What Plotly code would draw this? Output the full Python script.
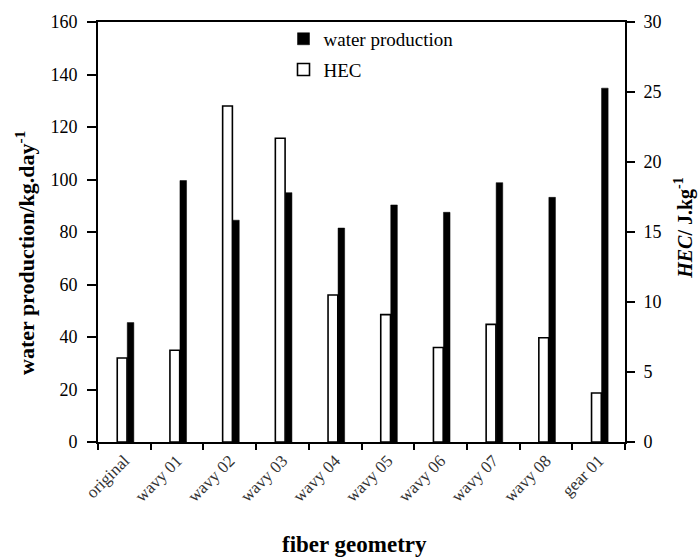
import plotly.graph_objects as go

categories = ["original", "wavy 01", "wavy 02", "wavy 03", "wavy 04",
              "wavy 05", "wavy 06", "wavy 07", "wavy 08", "gear 01"]
water_production = [45.5, 99.6, 84.5, 95.0, 81.5, 90.3, 87.5, 98.8, 93.2, 134.8]
hec = [6.0, 6.55, 24.0, 21.7, 10.5, 9.1, 6.75, 8.4, 7.45, 3.5]

FONT = "Liberation Serif"

fig = go.Figure()
fig.add_trace(go.Bar(
    x=categories, y=water_production, name="water production", yaxis="y",
    legendgroup="wp",
    width=0.125, offset=0.055,
    marker=dict(color="black", line=dict(color="black", width=0.5)),
))
fig.add_trace(go.Bar(
    x=categories, y=hec, name="HEC", yaxis="y2", legendgroup="hec",
    width=0.185, offset=-0.135,
    marker=dict(color="white", line=dict(color="black", width=1.6)),
))

fig.update_layout(
    width=700, height=560,
    margin=dict(l=98, r=75, t=19, b=118),
    paper_bgcolor="white", plot_bgcolor="white",
    font=dict(family=FONT, color="black", size=18),
    showlegend=True,
    legend=dict(x=0.352, y=1.005, xanchor="left", yanchor="top",
                traceorder="grouped", bgcolor="rgba(0,0,0,0)",
                font=dict(size=19, family=FONT), itemwidth=30,
                tracegroupgap=3),
    xaxis=dict(
        tickangle=-45, showline=True, linecolor="black", linewidth=2,
        ticks="outside", ticklen=6, tickcolor="black", tickwidth=2,
        tickson="boundaries", mirror=True,
        tickfont=dict(size=17, family=FONT, color="#333"),
    ),
    yaxis=dict(
        range=[0, 160], dtick=20, showline=True, linecolor="black", linewidth=2,
        ticks="outside", ticklen=9, tickcolor="black", tickwidth=2,
        ticklabelstandoff=6,
        showgrid=False, zeroline=False,
        tickfont=dict(size=18, family=FONT),
    ),
    yaxis2=dict(
        range=[0, 30], dtick=5, overlaying="y", side="right",
        showline=True, linecolor="black", linewidth=2,
        ticks="outside", ticklen=8, tickcolor="black", tickwidth=2,
        ticklabelstandoff=5,
        showgrid=False, zeroline=False,
        tickfont=dict(size=18, family=FONT),
    ),
    annotations=[
        dict(text="<b>water production/kg.day<sup>-1</sup></b>", textangle=-90,
             xref="paper", yref="paper", x=-0.1397, y=0.451,
             xanchor="center", yanchor="middle", showarrow=False,
             font=dict(size=22, family=FONT)),
        dict(text="<b><i>HEC</i>/ J.kg<sup>-1</sup></b>", textangle=-90,
             xref="paper", yref="paper", x=1.112, y=0.51,
             xanchor="center", yanchor="middle", showarrow=False,
             font=dict(size=20, family=FONT)),
        dict(text="<b>fiber geometry</b>",
             xref="paper", yref="paper", x=0.4867, y=-0.2444,
             xanchor="center", yanchor="middle", showarrow=False,
             font=dict(size=23, family=FONT)),
    ],
)

fig.write_html("out.html")
